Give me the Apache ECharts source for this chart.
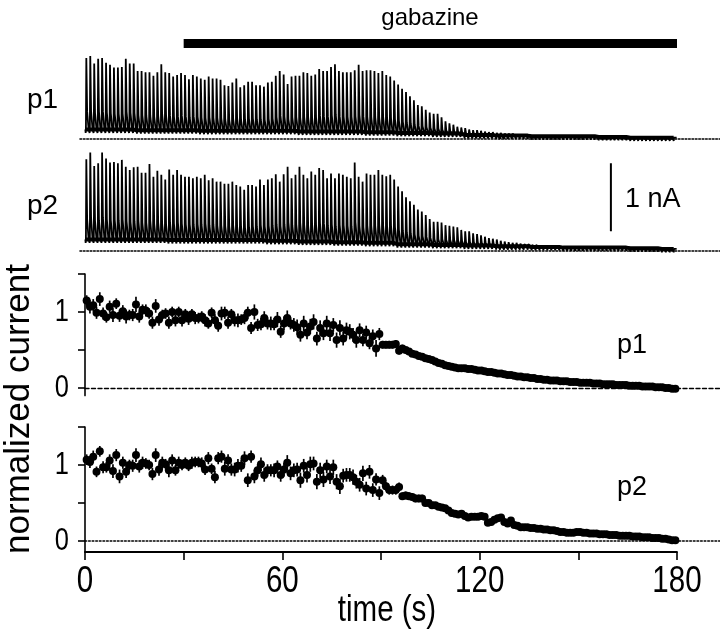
<!DOCTYPE html>
<html><head><meta charset="utf-8">
<script src="https://cdn.jsdelivr.net/npm/echarts@6/dist/echarts.min.js"></script>
<style>html,body{margin:0;padding:0;background:#fff}#c{width:720px;height:640px}</style>
</head><body><div id="c"></div>
<script>
// ---------------- data ----------------
const GABAZINE = [30, 180];               // application window (s)
const SPIKE_T0 = 0.2, SPIKE_DT = 1.2;     // timing of evoked currents (s)
const P1_PEAKS = [
1.19,1.22,1.11,1.18,1.19,1.12,1.09,1.05,1.05,1.06,
1.18,1.11,1.11,1.00,1.00,0.98,0.98,0.93,0.98,1.10,
0.98,0.97,0.92,0.94,0.97,0.94,0.88,0.94,0.92,0.89,
0.87,0.92,0.89,0.89,0.87,0.79,0.78,0.83,0.89,0.76,
0.79,0.84,0.84,0.79,0.79,0.77,0.83,0.84,0.93,1.00,
0.95,0.81,0.92,0.93,0.93,0.98,0.97,0.93,0.95,1.03,
1.00,1.00,1.06,1.10,1.00,0.98,0.98,0.98,1.01,1.09,
1.00,1.01,1.01,1.00,0.97,1.00,0.94,0.92,0.86,0.80,
0.74,0.69,0.63,0.57,0.50,0.48,0.43,0.39,0.37,0.37,
0.32,0.26,0.23,0.21,0.18,0.17,0.16,0.14,0.13,0.13,
0.12,0.11,0.10,0.10,0.09,0.09,0.08,0.08,0.08,0.07,
0.07,0.07,0.07,0.06,0.06,0.06,0.06,0.06,0.06,0.06,
0.05,0.05,0.05,0.05,0.05,0.05,0.05,0.05,0.05,0.05,
0.05,0.05,0.04,0.04,0.04,0.04,0.04,0.04,0.04,0.04,
0.04,0.03,0.03,0.03,0.03,0.03,0.03,0.03,0.03,0.03];
const P2_PEAKS = [
1.35,1.45,1.25,1.29,1.45,1.36,1.30,1.31,1.29,1.34,
1.24,1.19,1.23,1.24,1.15,1.15,1.28,1.09,1.18,1.12,
1.05,1.20,1.12,1.19,1.12,1.09,1.09,1.07,1.09,1.07,
1.12,1.04,1.07,1.02,1.02,0.99,0.99,1.02,0.97,0.95,
0.90,0.97,0.97,0.95,1.05,0.97,1.05,1.07,1.13,1.02,
1.13,1.24,1.07,1.12,1.24,1.12,1.07,1.17,1.12,1.22,
1.19,1.07,1.14,1.07,1.14,1.12,1.09,1.07,1.30,1.09,
1.02,1.14,1.12,1.12,1.19,1.12,1.10,1.12,1.05,0.95,
0.88,0.79,0.73,0.68,0.61,0.58,0.53,0.47,0.43,0.43,
0.42,0.38,0.37,0.36,0.35,0.31,0.29,0.29,0.26,0.25,
0.23,0.21,0.19,0.18,0.17,0.15,0.14,0.13,0.12,0.12,
0.11,0.10,0.10,0.09,0.09,0.08,0.08,0.08,0.07,0.07,
0.07,0.07,0.07,0.06,0.06,0.06,0.06,0.06,0.06,0.06,
0.05,0.05,0.05,0.05,0.05,0.05,0.05,0.05,0.05,0.05,
0.04,0.04,0.04,0.04,0.04,0.04,0.04,0.04,0.04,0.04];
const BASE_STEP = 10; // s, holding-current levels every 10 s
const P1_BASE = [0.14,0.14,0.13,0.13,0.12,0.12,0.12,0.11,0.11,0.10,0.09,0.08,0.06,0.05,0.04,0.04,0.03,0.02,0.02];
const P2_BASE = [0.17,0.17,0.17,0.16,0.16,0.16,0.15,0.14,0.13,0.12,0.10,0.09,0.08,0.07,0.06,0.05,0.05,0.04,0.03];
const SCALE_BAR_NA = 1;

const PT_T0 = 0.5, PT_DT = 1.0;
const P1_MEAN = [
1.15,1.07,1.09,0.99,1.17,0.98,0.93,1.07,0.96,1.11,
0.95,1.01,0.94,0.96,0.96,1.10,0.94,1.03,1.02,0.98,
0.86,1.08,0.90,0.96,0.98,0.86,1.00,0.89,1.00,0.89,
0.97,0.91,0.97,0.92,0.92,0.94,0.89,0.85,0.99,0.89,
0.82,0.98,0.99,0.86,0.97,0.89,0.89,0.90,0.92,0.99,
0.79,1.00,0.83,0.84,0.92,0.85,0.85,0.84,0.90,0.74,
0.85,0.92,0.85,0.83,0.80,0.70,0.85,0.73,0.81,0.87,
0.65,0.79,0.72,0.85,0.72,0.83,0.63,0.79,0.65,0.76,
0.74,0.70,0.63,0.76,0.63,0.73,0.59,0.68,0.52,0.71,
0.57,0.57,0.57,0.57,0.58,0.49,0.52,0.50,0.48,0.45,
0.44,0.42,0.41,0.39,0.38,0.37,0.35,0.33,0.32,0.30,
0.29,0.28,0.27,0.26,0.26,0.26,0.25,0.25,0.24,0.23,
0.23,0.22,0.21,0.21,0.20,0.19,0.19,0.18,0.17,0.17,
0.16,0.15,0.15,0.14,0.14,0.13,0.13,0.12,0.12,0.11,
0.11,0.10,0.10,0.10,0.09,0.09,0.09,0.08,0.08,0.08,
0.07,0.07,0.07,0.07,0.06,0.06,0.06,0.05,0.05,0.05,
0.05,0.04,0.04,0.04,0.04,0.03,0.03,0.03,0.03,0.02,
0.02,0.02,0.02,0.01,0.01,0.01,0.00,0.00,-0.01,-0.01];
const P1_ERR = [
0.07,0.09,0.08,0.08,0.09,0.08,0.07,0.08,0.09,0.07,
0.08,0.08,0.09,0.07,0.08,0.10,0.08,0.07,0.08,0.07,
0.08,0.09,0.08,0.07,0.07,0.08,0.07,0.08,0.07,0.08,
0.07,0.08,0.07,0.08,0.07,0.07,0.08,0.07,0.07,0.08,
0.08,0.09,0.08,0.08,0.07,0.08,0.09,0.07,0.08,0.08,
0.08,0.10,0.08,0.08,0.09,0.08,0.09,0.08,0.10,0.08,
0.09,0.10,0.08,0.09,0.10,0.09,0.10,0.09,0.10,0.10,
0.09,0.10,0.09,0.10,0.10,0.09,0.10,0.10,0.09,0.10,
0.10,0.09,0.10,0.09,0.08,0.09,0.08,0.09,0.11,0.08,
0.05,0.05,0.05,0.05,0.05,0.05,0.05,0.04,0.04,0.04,
0.04,0.04,0.04,0.04,0.04,0.03,0.03,0.03,0.03,0.03,
0.02,0.02,0.02,0.02,0.02,0.02,0.02,0.02,0.02,0.02,
0.02,0.02,0.02,0.02,0.02,0.02,0.02,0.02,0.02,0.02,
0.02,0.02,0.02,0.02,0.02,0.02,0.02,0.02,0.02,0.02,
0.015,0.015,0.015,0.015,0.015,0.015,0.015,0.015,0.015,0.015,
0.015,0.015,0.015,0.015,0.015,0.015,0.015,0.015,0.015,0.015,
0.01,0.01,0.01,0.01,0.01,0.01,0.01,0.01,0.01,0.01,
0.01,0.01,0.01,0.01,0.01,0.01,0.01,0.01,0.01,0.01];
const P2_MEAN = [
1.07,1.04,1.11,0.91,1.18,0.97,0.97,1.06,0.92,1.13,
0.85,1.03,0.91,1.00,0.99,1.13,0.98,1.03,1.02,1.00,
0.88,1.13,0.94,1.03,1.01,0.93,1.06,0.93,1.03,1.00,
1.03,0.99,1.03,1.04,1.04,1.02,0.94,1.09,0.95,0.84,
1.09,1.11,0.95,1.06,0.94,0.94,0.99,0.99,1.09,0.80,
1.11,0.85,0.93,1.01,0.87,0.93,0.93,0.93,0.98,0.87,
0.94,1.03,0.89,0.93,0.94,0.80,0.99,0.87,1.01,1.02,
0.78,0.93,0.81,0.98,0.85,0.97,0.78,0.72,0.86,0.87,
0.87,0.84,0.78,0.74,0.89,0.69,0.91,0.67,0.81,0.63,
0.80,0.72,0.67,0.67,0.67,0.71,0.59,0.60,0.59,0.58,
0.56,0.56,0.56,0.50,0.50,0.47,0.47,0.45,0.44,0.43,
0.40,0.37,0.36,0.35,0.36,0.33,0.31,0.32,0.32,0.32,
0.33,0.32,0.24,0.25,0.28,0.30,0.31,0.25,0.23,0.27,
0.21,0.20,0.18,0.18,0.18,0.17,0.17,0.16,0.16,0.15,
0.15,0.14,0.14,0.13,0.12,0.12,0.11,0.11,0.11,0.12,
0.12,0.11,0.11,0.10,0.10,0.10,0.09,0.09,0.09,0.08,
0.08,0.08,0.07,0.07,0.07,0.07,0.06,0.06,0.06,0.05,
0.05,0.05,0.04,0.04,0.04,0.03,0.03,0.02,0.01,0.01];
const P2_ERR = [
0.07,0.08,0.08,0.07,0.07,0.08,0.07,0.08,0.09,0.08,
0.09,0.08,0.08,0.07,0.08,0.09,0.08,0.08,0.07,0.07,
0.08,0.09,0.08,0.08,0.07,0.09,0.08,0.07,0.08,0.07,
0.07,0.07,0.08,0.07,0.07,0.08,0.07,0.08,0.07,0.08,
0.08,0.08,0.09,0.08,0.08,0.09,0.09,0.08,0.09,0.09,
0.08,0.09,0.08,0.09,0.09,0.08,0.08,0.09,0.08,0.09,
0.09,0.10,0.09,0.09,0.09,0.10,0.09,0.10,0.10,0.09,
0.10,0.10,0.10,0.09,0.10,0.10,0.10,0.10,0.09,0.09,
0.09,0.10,0.09,0.09,0.10,0.09,0.09,0.09,0.08,0.09,
0.07,0.06,0.06,0.06,0.06,0.06,0.05,0.05,0.05,0.05,
0.05,0.05,0.05,0.04,0.04,0.04,0.04,0.04,0.03,0.03,
0.03,0.03,0.03,0.03,0.03,0.02,0.02,0.02,0.02,0.02,
0.02,0.02,0.02,0.02,0.02,0.02,0.02,0.02,0.02,0.02,
0.02,0.02,0.02,0.02,0.02,0.02,0.02,0.02,0.02,0.02,
0.015,0.015,0.015,0.015,0.015,0.015,0.015,0.015,0.015,0.015,
0.015,0.015,0.015,0.015,0.015,0.015,0.015,0.015,0.015,0.015,
0.015,0.015,0.015,0.015,0.015,0.015,0.015,0.015,0.015,0.015,
0.015,0.015,0.015,0.015,0.015,0.015,0.015,0.015,0.015,0.015];
const X_TICKS = [0, 30, 60, 90, 120, 150, 180];
const X_LABELS = [0, 60, 120, 180];
const Y_TICKS = [0, 0.5, 1, 1.5];
const Y_LABELS = [0, 1];

// ---------------- layout ----------------
const X0 = 85, X180 = 677, W = 720;
const PXS = (X180 - X0) / 180;
const NA_PX = 68, ZT1 = 139, ZT2 = 251, TMIN = -0.2, TMAX = 1.5;
const U_PX = 76, ZS1 = 388, ZS2 = 541, SMAX = 1.5, SMIN1 = -0.1, SMIN2 = -0.145;
const TRACE_LEFT = 80;
const ART = 0.05;
const FONT = "'Liberation Sans', Arial, sans-serif";
const NARROW_SCALE = 0.82;

function baseAt(arr, t) { return arr[Math.min(arr.length - 1, Math.round(t / BASE_STEP))]; }
function traceData(peaks, base) {
  const out = [];
  peaks.forEach((pk, i) => {
    const t = SPIKE_T0 + SPIKE_DT * i, b = baseAt(base, t);
    out.push([t - 0.1, b], [t, b - ART], [t + 0.08, b], [t + 0.2, pk], [t + 0.45, b + (pk - b) * 0.25], [t + 0.9, b]);
  });
  return out;
}
function baseLine(peaks, base) {
  return peaks.map((pk, i) => { const t = SPIKE_T0 + SPIKE_DT * i; return [t, baseAt(base, t)]; });
}
function pts(m) { return m.map((v, i) => [PT_T0 + PT_DT * i, v]); }
function bars(m, e) { return m.map((v, i) => [PT_T0 + PT_DT * i, v - e[i], v + e[i]]); }

const hidden = { show: false };
function tGrid(zero) { return { left: TRACE_LEFT, right: 0, top: zero - TMAX * NA_PX, height: (TMAX - TMIN) * NA_PX }; }
function sGrid(zero, mn, full) { return { left: X0, width: full ? W - X0 : X180 - X0, top: zero - SMAX * U_PX, height: (SMAX - mn) * U_PX }; }

const tXmin = -(X0 - TRACE_LEFT) / PXS, tXmax = (W - X0) / PXS;
function zeroX(gi, mn, mx, dash, w) {
  return { gridIndex: gi, type: 'value', min: mn, max: mx, axisLine: { show: true, onZero: true, lineStyle: { color: '#000', width: w, type: dash } },
    axisTick: hidden, axisLabel: hidden, splitLine: hidden };
}
function hidY(gi, mn, mx) { return { gridIndex: gi, type: 'value', min: mn, max: mx, show: false, splitLine: hidden }; }
function visY(gi, mn) {
  return { gridIndex: gi, type: 'value', min: mn, max: SMAX,
    axisLine: { show: true, onZero: false, lineStyle: { color: '#000', width: 1.6 } },
    axisTick: { show: true, inside: false, length: 7, customValues: Y_TICKS, lineStyle: { color: '#000', width: 1.6 } },
    axisLabel: { show: false },
    splitLine: hidden };
}
function errSeries(xi, data) {
  return { type: 'custom', xAxisIndex: xi, yAxisIndex: xi, data: data, encode: { x: 0, y: [1, 2] },
    renderItem: (p, api) => { const a = api.coord([api.value(0), api.value(1)]), b = api.coord([api.value(0), api.value(2)]);
      return { type: 'line', shape: { x1: a[0], y1: a[1], x2: b[0], y2: b[1] }, style: { stroke: '#000', lineWidth: 1.7 } }; } };
}
function dots(xi, m) {
  return { type: 'scatter', xAxisIndex: xi, yAxisIndex: xi, data: pts(m), symbol: 'circle', symbolSize: 8,
    itemStyle: { color: '#000', opacity: 1 } };
}

const chart = echarts.init(document.getElementById('c'), null, { renderer: 'canvas' });
chart.setOption({
  animation: false,
  backgroundColor: '#fff',
  grid: [
    { left: X0, width: X180 - X0, top: 39, height: 9 },
    tGrid(ZT1), tGrid(ZT2),
    sGrid(ZS1, SMIN1, false), sGrid(ZS2, SMIN2, false),
    sGrid(ZS1, SMIN1, true), sGrid(ZS2, SMIN2, true)
  ],
  xAxis: [
    { gridIndex: 0, type: 'value', min: 0, max: 180, show: false },
    zeroX(1, tXmin, tXmax, [1.6, 1.8], 1.6),
    zeroX(2, tXmin, tXmax, [1.6, 1.8], 1.6),
    { gridIndex: 3, type: 'value', min: 0, max: 180, show: false },
    { gridIndex: 4, type: 'value', min: 0, max: 180, position: 'bottom',
      axisLine: { show: true, onZero: false, lineStyle: { color: '#000', width: 1.8 } },
      axisTick: { show: true, inside: false, length: 8, customValues: X_TICKS, lineStyle: { color: '#000', width: 1.6 } },
      axisLabel: { show: false },
      splitLine: hidden },
    zeroX(5, 0, (W - X0) / PXS, [4, 2.5], 1.4),
    zeroX(6, 0, (W - X0) / PXS, [1.6, 2], 1.6)
  ],
  yAxis: [
    hidY(0, 0, 1), hidY(1, TMIN, TMAX), hidY(2, TMIN, TMAX),
    visY(3, SMIN1), visY(4, SMIN2),
    hidY(5, SMIN1, SMAX), hidY(6, SMIN2, SMAX)
  ],
  series: [
    { type: 'custom', xAxisIndex: 0, yAxisIndex: 0, data: [GABAZINE], encode: { x: [0, 1] },
      renderItem: (p, api) => { const a = api.coord([api.value(0), 1]), b = api.coord([api.value(1), 0]);
        return { type: 'rect', shape: { x: a[0], y: a[1], width: b[0] - a[0], height: b[1] - a[1] }, style: { fill: '#000' } }; } },
    { type: 'line', xAxisIndex: 1, yAxisIndex: 1, data: baseLine(P1_PEAKS, P1_BASE), symbol: 'none', lineStyle: { color: '#000', width: 4 } },
    { type: 'line', xAxisIndex: 1, yAxisIndex: 1, data: traceData(P1_PEAKS, P1_BASE), symbol: 'none', sampling: null, lineStyle: { color: '#000', width: 1.8 } },
    { type: 'line', xAxisIndex: 2, yAxisIndex: 2, data: baseLine(P2_PEAKS, P2_BASE), symbol: 'none', lineStyle: { color: '#000', width: 4 } },
    { type: 'line', xAxisIndex: 2, yAxisIndex: 2, data: traceData(P2_PEAKS, P2_BASE), symbol: 'none', sampling: null, lineStyle: { color: '#000', width: 1.8 } },
    { type: 'line', xAxisIndex: 2, yAxisIndex: 2, data: [[159.9, 0.29], [159.9, 0.29 + SCALE_BAR_NA]], symbol: 'none', lineStyle: { color: '#000', width: 2 } },
    errSeries(3, bars(P1_MEAN, P1_ERR)),
    dots(3, P1_MEAN),
    errSeries(4, bars(P2_MEAN, P2_ERR)),
    dots(4, P2_MEAN)
  ]
});

// Tick labels in a condensed face, placed through the axes' own scales
const gfx = [
  { type: 'text', x: 430, y: 18, style: { text: 'gabazine', font: '24px ' + FONT, fill: '#000', align: 'center', verticalAlign: 'middle' } },
  { type: 'text', x: 27, y: 100, style: { text: 'p1', font: '28px ' + FONT, fill: '#000', align: 'left', verticalAlign: 'middle' } },
  { type: 'text', x: 27, y: 206, style: { text: 'p2', font: '28px ' + FONT, fill: '#000', align: 'left', verticalAlign: 'middle' } },
  { type: 'text', x: 625, y: 200, style: { text: '1 nA', font: '27px ' + FONT, fill: '#000', align: 'left', verticalAlign: 'middle' } },
  { type: 'text', x: 617, y: 346, style: { text: 'p1', font: '27px ' + FONT, fill: '#000', align: 'left', verticalAlign: 'middle' } },
  { type: 'text', x: 617, y: 488, style: { text: 'p2', font: '27px ' + FONT, fill: '#000', align: 'left', verticalAlign: 'middle' } },
  { type: 'text', x: 387, y: 611, scaleX: NARROW_SCALE, style: { text: 'time (s)', font: '36px ' + FONT, fill: '#000', align: 'center', verticalAlign: 'middle' } },
  { type: 'text', x: 19, y: 409, rotation: Math.PI / 2, style: { text: 'normalized current', font: '35px ' + FONT, fill: '#000', align: 'center', verticalAlign: 'middle' } }
];
X_LABELS.forEach(v => {
  const p = chart.convertToPixel({ gridIndex: 4 }, [v, SMIN2]);
  gfx.push({ type: 'text', x: p[0], y: p[1] + 12, scaleX: NARROW_SCALE, style: { text: String(v), font: '36px ' + FONT, fill: '#000', align: 'center', verticalAlign: 'top' } });
});
[3, 4].forEach(gi => {
  Y_LABELS.forEach(v => {
    const p = chart.convertToPixel({ gridIndex: gi }, [0, v]);
    gfx.push({ type: 'text', x: p[0] - 16, y: p[1], scaleX: NARROW_SCALE, style: { text: String(v), font: '31px ' + FONT, fill: '#000', align: 'right', verticalAlign: 'middle' } });
  });
});
chart.setOption({ graphic: gfx });
</script></body></html>
